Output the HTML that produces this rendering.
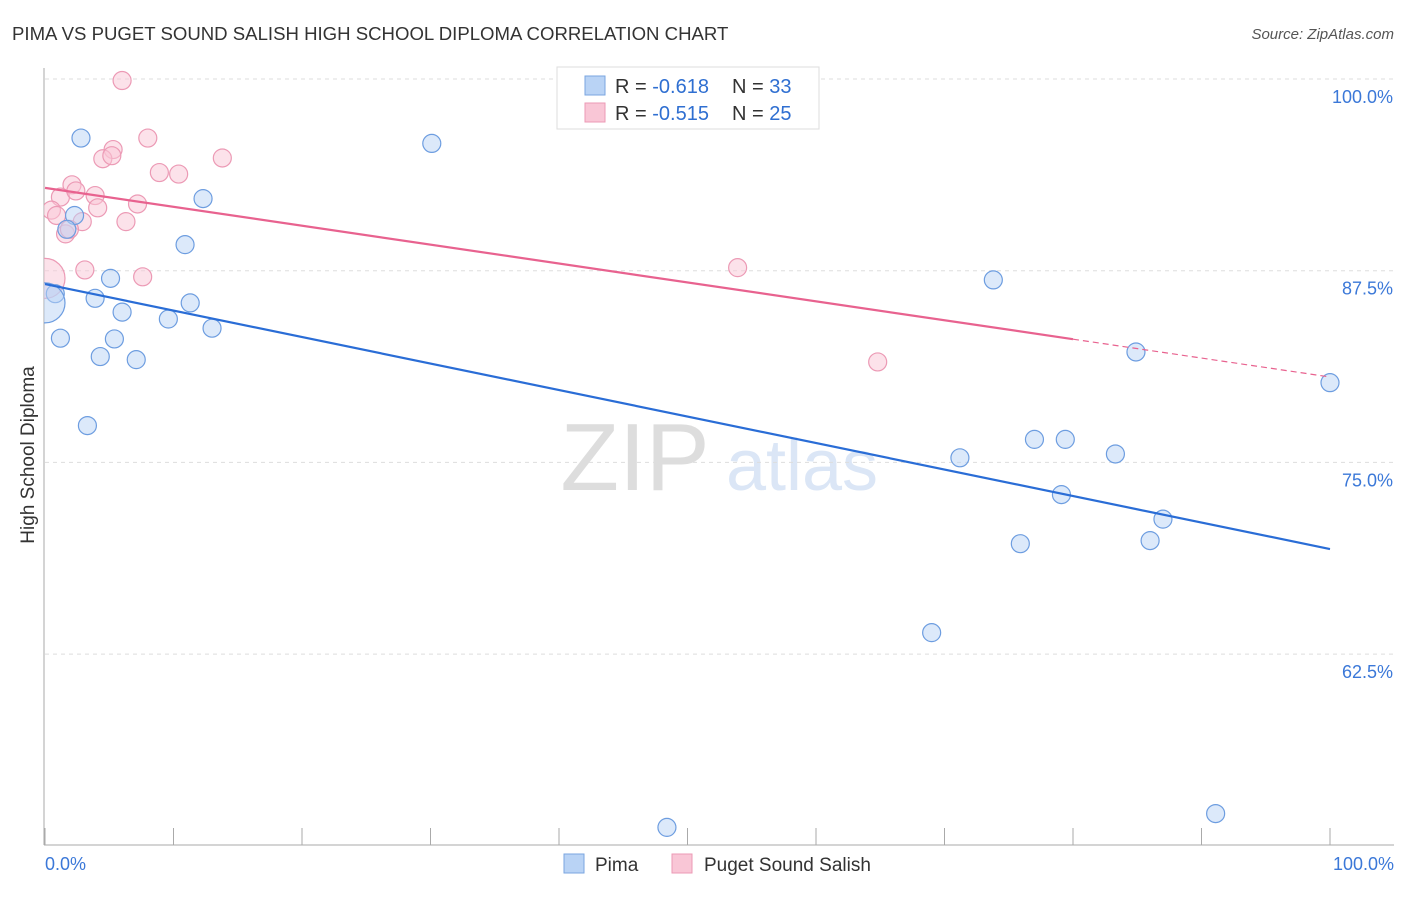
<!DOCTYPE html>
<html><head><meta charset="utf-8"><style>
body{margin:0;background:#fff;font-family:"Liberation Sans",sans-serif}
svg text{font-family:"Liberation Sans",sans-serif}
</style></head><body>
<svg id="c" width="1406" height="892">
<defs><clipPath id="plot"><rect x="44" y="60" width="1360" height="790"/></clipPath></defs>
<text x="12" y="40" font-size="18.6" fill="#333">PIMA VS PUGET SOUND SALISH HIGH SCHOOL DIPLOMA CORRELATION CHART</text>
<text x="1394" y="39" font-size="15" fill="#555" font-style="italic" text-anchor="end">Source: ZipAtlas.com</text>
<text x="34" y="455" font-size="19" fill="#333" transform="rotate(-90 34 455)" text-anchor="middle">High School Diploma</text>
<g><text x="635" y="490" font-size="96" fill="#ddd" font-family="Liberation Serif" text-anchor="middle">ZIP</text><text x="802" y="490" font-size="72" fill="#dbe6f6" text-anchor="middle">atlas</text></g>
<g id="grid"></g><g id="axes"></g><g id="marks" clip-path="url(#plot)"></g>
<g>
<rect x="557" y="67" width="262" height="62" fill="#fff" stroke="#ddd"/>
<rect x="585" y="76" width="20" height="19" fill="#b9d3f5" stroke="#7aa6e0"/>
<rect x="585" y="103" width="20" height="19" fill="#f9c6d6" stroke="#ec9ab5"/>
<g>
<text x="615" y="93" font-size="20" fill="#333">R = <tspan fill="#2f6fd1">-0.618</tspan></text>
<text x="732" y="93" font-size="20" fill="#333">N = <tspan fill="#2f6fd1">33</tspan></text></g>
<g>
<text x="615" y="120" font-size="20" fill="#333">R = <tspan fill="#2f6fd1">-0.515</tspan></text>
<text x="732" y="120" font-size="20" fill="#333">N = <tspan fill="#2f6fd1">25</tspan></text></g>
</g>
<g>
<rect x="564" y="854" width="20" height="19" fill="#b9d3f5" stroke="#7aa6e0"/>
<text x="595" y="871" font-size="19" fill="#333">Pima</text>
<rect x="672" y="854" width="20" height="19" fill="#f9c6d6" stroke="#ec9ab5"/>
<text x="704" y="871" font-size="19" fill="#333">Puget Sound Salish</text>
</g>
</svg>
<script>
const yTicks=[100,87.5,75,62.5];
const yTickLabels=["100.0%","87.5%","75.0%","62.5%"];
const xTickLabels=["0.0%","100.0%"];
const pimaX=[2.8,30.1,12.3,2.3,1.7,10.9,5.1,73.8,0.8,3.9,11.3,6.0,9.6,13.0,1.2,5.4,4.3,7.1,84.9,100,3.3,77.0,79.4,71.2,83.3,79.1,87.0,75.9,86.0,69.0,48.4,91.1,0];
const pimaY=[96.15,95.8,92.2,91.1,90.2,89.2,87.0,86.9,86.0,85.7,85.4,84.8,84.35,83.75,83.1,83.05,81.9,81.7,82.2,80.2,77.4,76.5,76.5,75.3,75.55,72.9,71.3,69.7,69.9,63.9,51.2,52.1,85.4];
const pugetX=[6.0,8.0,5.3,4.5,5.2,13.8,8.9,10.4,2.1,1.2,2.4,3.9,0.5,4.1,7.2,2.9,0.9,1.6,6.3,3.1,7.6,53.9,64.8,0,1.9];
const pugetY=[99.9,96.15,95.4,94.8,95.0,94.85,93.9,93.8,93.1,92.3,92.7,92.4,91.45,91.6,91.85,90.7,91.1,89.9,90.7,87.55,87.1,87.7,81.55,87.0,90.2];
const pimaTrend=[86.63,69.35];
const pugetTrend=[92.9,80.57];
const NS="http://www.w3.org/2000/svg";
const X=v=>45+v*12.85, Y=v=>79+(100-v)*15.336;
function mk(t,a,p){const e=document.createElementNS(NS,t);for(const k in a)e.setAttribute(k,a[k]);document.getElementById(p).appendChild(e);return e;}
yTicks.forEach((t,i)=>{
 const l=mk('line',{x1:45,x2:1394,y1:Y(t),y2:Y(t),stroke:'#ddd','stroke-dasharray':'4 4'},'grid');
 
 
 const tx=mk('text',{x:1393,y:Y(t)+24,'font-size':18,fill:'#3b78d8','text-anchor':'end'},'axes');tx.textContent=yTickLabels[i];
 
 
});
const ax=mk('line',{x1:44,x2:44,y1:68,y2:845,stroke:'#aaa'},'axes');


const bx=mk('line',{x1:44,x2:1394,y1:845,y2:845,stroke:'#aaa'},'axes');


for(let i=0;i<=10;i++){const t=mk('line',{x1:X(i*10),x2:X(i*10),y1:828,y2:845,stroke:'#aaa'},'axes');
 
 }
[[0,'start',45],[100,'end',1394]].forEach((d,i)=>{const t=mk('text',{x:d[2],y:870,'font-size':18,fill:'#3b78d8','text-anchor':d[1]},'axes');t.textContent=xTickLabels[i];
 
 });
function pts(xs,ys,fill,stroke,name){xs.forEach((x,i)=>{const big=(x===0);
 const c=mk('circle',{cx:X(x),cy:Y(ys[i]),r:big?20:9,fill:fill,'fill-opacity':0.5,stroke:stroke,'stroke-width':1.2},'marks');
 
 });}
pts(pugetX,pugetY,'#f9c6d6','#ec9ab5','puget-point');
pts(pimaX,pimaY,'#b9d3f5','#6d9de0','pima-point');
const tb=mk('line',{x1:X(0),y1:Y(pimaTrend[0]),x2:X(100),y2:Y(pimaTrend[1]),stroke:'#2a6dd6','stroke-width':2.2},'marks');


const pAt=x=>pugetTrend[0]+(pugetTrend[1]-pugetTrend[0])*x/100;
const tp=mk('line',{x1:X(0),y1:Y(pAt(0)),x2:X(80),y2:Y(pAt(80)),stroke:'#e8628f','stroke-width':2.2},'marks');


const tpd=mk('line',{x1:X(80),y1:Y(pAt(80)),x2:X(100),y2:Y(pAt(100)),stroke:'#e8628f','stroke-width':1.2,'stroke-dasharray':'6 4'},'marks');


</script>
</body></html>
